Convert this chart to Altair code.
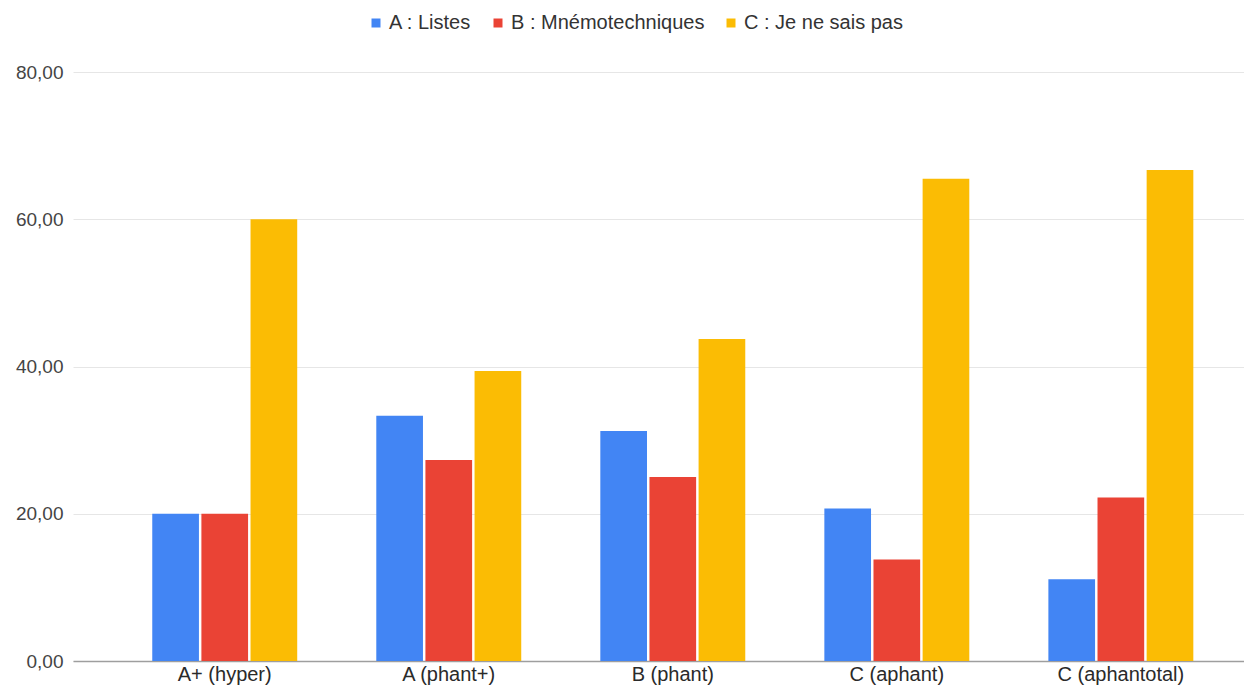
import altair as alt
import pandas as pd

categories = ["A+ (hyper)", "A (phant+)", "B (phant)", "C (aphant)", "C (aphantotal)"]
series = ["A : Listes", "B : Mnémotechniques", "C : Je ne sais pas"]
listes = [20.0, 33.3, 31.25, 20.7, 11.1]
mnemo = [20.0, 27.3, 25.0, 13.8, 22.2]
nsp = [60.0, 39.4, 43.75, 65.5, 66.7]
colors = ["#4285F4", "#EA4335", "#FBBC04"]

rows = []
for i, c in enumerate(categories):
    for s, vals in zip(series, [listes, mnemo, nsp]):
        rows.append({"cat": c, "serie": s, "val": vals[i]})
df = pd.DataFrame(rows)

FONT = "Liberation Sans"

W = 1171
chart = alt.Chart(df).mark_bar().encode(
    x=alt.X("cat:N", sort=categories, title=None,
            scale=alt.Scale(paddingInner=0.353, paddingOuter=0.29, align=0.61),
            axis=alt.Axis(labelAngle=0, labelFontSize=20, labelColor="#2a2a2a",
                          labelFont=FONT, ticks=False, domainColor="#9e9e9e",
                          domainWidth=1.5, labelPadding=3, grid=False)),
    xOffset=alt.XOffset("serie:N", sort=series,
                        scale=alt.Scale(paddingInner=0.05)),
    y=alt.Y("val:Q", title=None,
            scale=alt.Scale(domain=[0, 80], nice=False),
            axis=alt.Axis(values=[0, 20, 40, 60, 80], labelFontSize=19,
                          labelColor="#444444", labelFont=FONT, ticks=False,
                          domain=False, gridColor="#e6e6e6", labelPadding=10,
                          labelExpr="replace(format(datum.value, '.2f'), '.', ',')")),
    color=alt.Color("serie:N", sort=series,
                    scale=alt.Scale(domain=series, range=colors),
                    legend=alt.Legend(title=None, orient="none", direction="horizontal",
                                      legendX=293, legendY=-59, symbolType="square",
                                      symbolSize=81, symbolStrokeWidth=0,
                                      labelFontSize=20, labelFont=FONT,
                                      labelColor="#333333", labelOffset=3,
                                      labelLimit=400,
                                      columnPadding=16, padding=0)),
).properties(
    width=W, height=589,
    autosize=alt.AutoSizeParams(type="none"),
    padding={"left": 65, "top": 64, "right": 0, "bottom": 26},
).configure_view(stroke=None)

chart.save("out.html", embed_options={"renderer": "svg", "actions": False})
